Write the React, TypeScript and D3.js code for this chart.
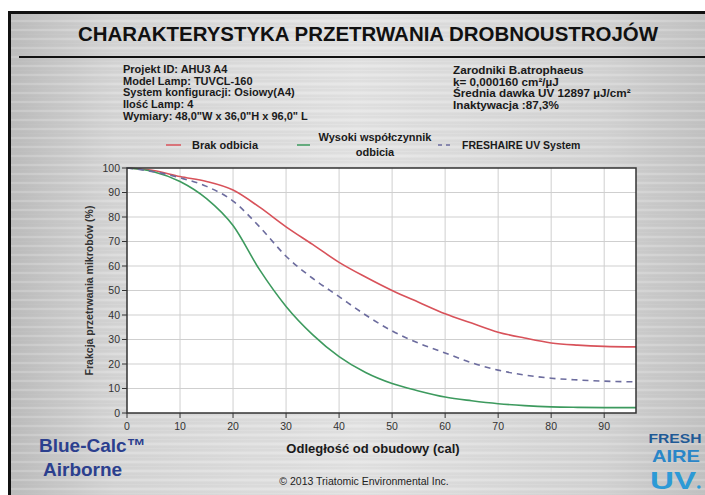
import { curveMonotoneX, line as d3_line, range, scaleLinear } from "d3";
import type { FC } from "react";

// odległość od obudowy (cal)
const distances = [0, 5, 10, 15, 20, 25, 30, 35, 40, 45, 50, 55, 60, 65, 70, 75, 80, 85, 90, 96];
const brakOdbicia = [100, 99, 96.5, 94.5, 91, 84, 76, 68.8, 61.5, 55.5, 50, 45.2, 40.5, 36.7, 33, 30.6, 28.6, 27.7, 27.2, 27];
const wysokiWspolczynnik = [100, 98.5, 94.5, 87.5, 76.5, 58.5, 43.5, 32, 23, 16.5, 12, 9, 6.5, 5, 3.8, 3, 2.5, 2.3, 2.2, 2.2];
const freshaire = [100, 98.5, 96, 92.5, 86.5, 76, 64, 55, 47.5, 40, 33.5, 28.5, 24.5, 20.5, 17.5, 15.5, 14.2, 13.5, 13, 12.7];

const xTicks = [0, 10, 20, 30, 40, 50, 60, 70, 80, 90];
const yTicks = [0, 10, 20, 30, 40, 50, 60, 70, 80, 90, 100];

const leftInfo = [
  "Projekt ID: AHU3 A4",
  "Model Lamp: TUVCL-160",
  "System konfiguracji: Osiowy(A4)",
  "Ilość Lamp: 4",
  'Wymiary: 48,0"W x 36,0"H x 96,0" L',
];
const rightInfo = [
  "Zarodniki B.atrophaeus",
  "k= 0,000160 cm²/µJ",
  "Średnia dawka UV 12897 µJ/cm²",
  "Inaktywacja :87,3%",
];

const series = [
  { name: "Brak odbicia", values: brakOdbicia, color: "#d8525a", dash: undefined },
  { name: "Wysoki współczynnik", values: wysokiWspolczynnik, color: "#3d9a5e", dash: undefined },
  { name: "FRESHAIRE UV System", values: freshaire, color: "#6c6c9e", dash: "6,5" },
];

const W = 705;
const H = 495;
const plot = { left: 127, right: 636, top: 168, bottom: 413 };

const App: FC = () => {
  const x = scaleLinear().domain([0, 96]).range([plot.left, plot.right]);
  const y = scaleLinear().domain([0, 100]).range([plot.bottom, plot.top]);

  const line = d3_line<number>()
    .x((_, i) => x(distances[i]))
    .y((d) => y(d))
    .curve(curveMonotoneX);

  const font = "Liberation Sans, Arial, sans-serif";
  const streaks = range(0, H, 3);

  return (
    <svg
      width={W}
      height={H}
      style={{ position: "absolute", left: 0, top: 0, background: "#fff" }}
      fontFamily={font}
    >
      <defs>
        <linearGradient id="metal" x1="0" x2="1" y1="0" y2="0">
          <stop offset="0" stopColor="#bcbcbc" />
          <stop offset="0.15" stopColor="#d6d6d6" />
          <stop offset="0.5" stopColor="#e4e4e4" />
          <stop offset="0.85" stopColor="#d4d4d4" />
          <stop offset="1" stopColor="#c2c2c2" />
        </linearGradient>
      </defs>

      {/* tło */}
      <rect x={9} y={12} width={W - 9} height={H - 12} fill="url(#metal)" />
      {streaks.map((s, i) => (
        <line
          key={i}
          x1={9}
          x2={W}
          y1={12 + s}
          y2={12 + s}
          stroke={i % 3 === 0 ? "#ffffff" : "#b8b8b8"}
          strokeOpacity={i % 3 === 0 ? 0.35 : 0.18}
          strokeWidth={1}
        />
      ))}
      <rect x={9.5} y={12.5} width={W} height={H} fill="none" stroke="#111" strokeWidth={3} />

      {/* tytuł */}
      <text
        x={368}
        y={41}
        textAnchor="middle"
        fontSize={20}
        fontWeight="bold"
        fill="#111"
        textLength={580}
        lengthAdjust="spacingAndGlyphs"
      >
        CHARAKTERYSTYKA PRZETRWANIA DROBNOUSTROJÓW
      </text>
      <line x1={19} x2={W} y1={57} y2={57} stroke="#111" strokeWidth={2} />

      {/* informacje */}
      {leftInfo.map((t, i) => (
        <text key={i} x={123} y={73 + i * 11.7} fontSize={11} fontWeight="bold" fill="#1a1a1a">
          {t}
        </text>
      ))}
      {rightInfo.map((t, i) => (
        <text key={i} x={453} y={74 + i * 11.7} fontSize={11.7} fontWeight="bold" fill="#1a1a1a">
          {t}
        </text>
      ))}

      {/* legenda */}
      <line x1={166} x2={181} y1={145} y2={145} stroke={series[0].color} strokeWidth={1.5} />
      <text x={192} y={149} fontSize={11} fontWeight="bold" fill="#1a1a1a">
        Brak odbicia
      </text>
      <line x1={297} x2={310} y1={145} y2={145} stroke={series[1].color} strokeWidth={1.5} />
      <text x={375} y={141} textAnchor="middle" fontSize={11} fontWeight="bold" fill="#1a1a1a">
        Wysoki współczynnik
      </text>
      <text x={375} y={156} textAnchor="middle" fontSize={11} fontWeight="bold" fill="#1a1a1a">
        odbicia
      </text>
      <line x1={438} x2={450} y1={145} y2={145} stroke={series[2].color} strokeWidth={1.5} strokeDasharray="4,4" />
      <text x={462} y={149} fontSize={10.5} fontWeight="bold" fill="#1a1a1a">
        FRESHAIRE UV System
      </text>

      {/* obszar wykresu */}
      <rect x={plot.left} y={plot.top} width={plot.right - plot.left} height={plot.bottom - plot.top} fill="#fff" />
      {xTicks.slice(1).map((t) => (
        <line key={t} x1={x(t)} x2={x(t)} y1={plot.top} y2={plot.bottom} stroke="#cfcfcf" strokeWidth={1} />
      ))}
      {yTicks.slice(1, -1).map((t) => (
        <line key={t} x1={plot.left} x2={plot.right} y1={y(t)} y2={y(t)} stroke="#cfcfcf" strokeWidth={1} />
      ))}

      {series.map((s) => (
        <path
          key={s.name}
          d={line(s.values) ?? ""}
          fill="none"
          stroke={s.color}
          strokeWidth={1.6}
          strokeDasharray={s.dash}
        />
      ))}

      <rect
        x={plot.left}
        y={plot.top}
        width={plot.right - plot.left}
        height={plot.bottom - plot.top}
        fill="none"
        stroke="#333"
        strokeWidth={1.5}
      />

      {/* oś Y */}
      {yTicks.map((t) => (
        <g key={t} transform={`translate(${plot.left},${y(t)})`}>
          <line x1={-5} x2={0} stroke="#333" />
          <text x={-7} dy="0.35em" textAnchor="end" fontSize={10.5} fill="#333">
            {t}
          </text>
        </g>
      ))}
      <text
        transform={`translate(93,${(plot.top + plot.bottom) / 2}) rotate(-90)`}
        textAnchor="middle"
        fontSize={10.5}
        fontWeight="bold"
        fill="#333"
      >
        Frakcja przetrwania mikrobów (%)
      </text>

      {/* oś X */}
      {xTicks.map((t) => (
        <g key={t} transform={`translate(${x(t)},${plot.bottom})`}>
          <line y1={0} y2={5} stroke="#333" />
          <text y={17} textAnchor="middle" fontSize={10.5} fill="#333">
            {t}
          </text>
        </g>
      ))}
      <text x={373} y={453} textAnchor="middle" fontSize={13} fontWeight="bold" fill="#1a1a1a">
        Odległość od obudowy (cal)
      </text>
      <text x={364} y={485} textAnchor="middle" fontSize={10.5} fill="#222">
        © 2013 Triatomic Environmental Inc.
      </text>

      {/* Blue-Calc */}
      <text x={39} y={452} fontSize={19} fontWeight="bold" fill="#2b3f8e">
        Blue-Calc™
      </text>
      <text x={43} y={476} fontSize={19} fontWeight="bold" fill="#2b3f8e">
        Airborne
      </text>

      {/* logo */}
      <text x={675} y={443} textAnchor="middle" fontSize={12} fontWeight="bold" fill="#1f5a96" textLength={53} lengthAdjust="spacingAndGlyphs">
        FRESH
      </text>
      <text x={676} y={462} textAnchor="middle" fontSize={17} fontWeight="bold" fill="#2a86c8" textLength={48} lengthAdjust="spacingAndGlyphs">
        AIRE
      </text>
      <text x={673} y={489} textAnchor="middle" fontSize={24} fontWeight="bold" fill="#2d9ad6" textLength={46} lengthAdjust="spacingAndGlyphs">
        UV
      </text>
      <circle cx={699} cy={487} r={1.8} fill="#2d9ad6" />
    </svg>
  );
};

export default App;
